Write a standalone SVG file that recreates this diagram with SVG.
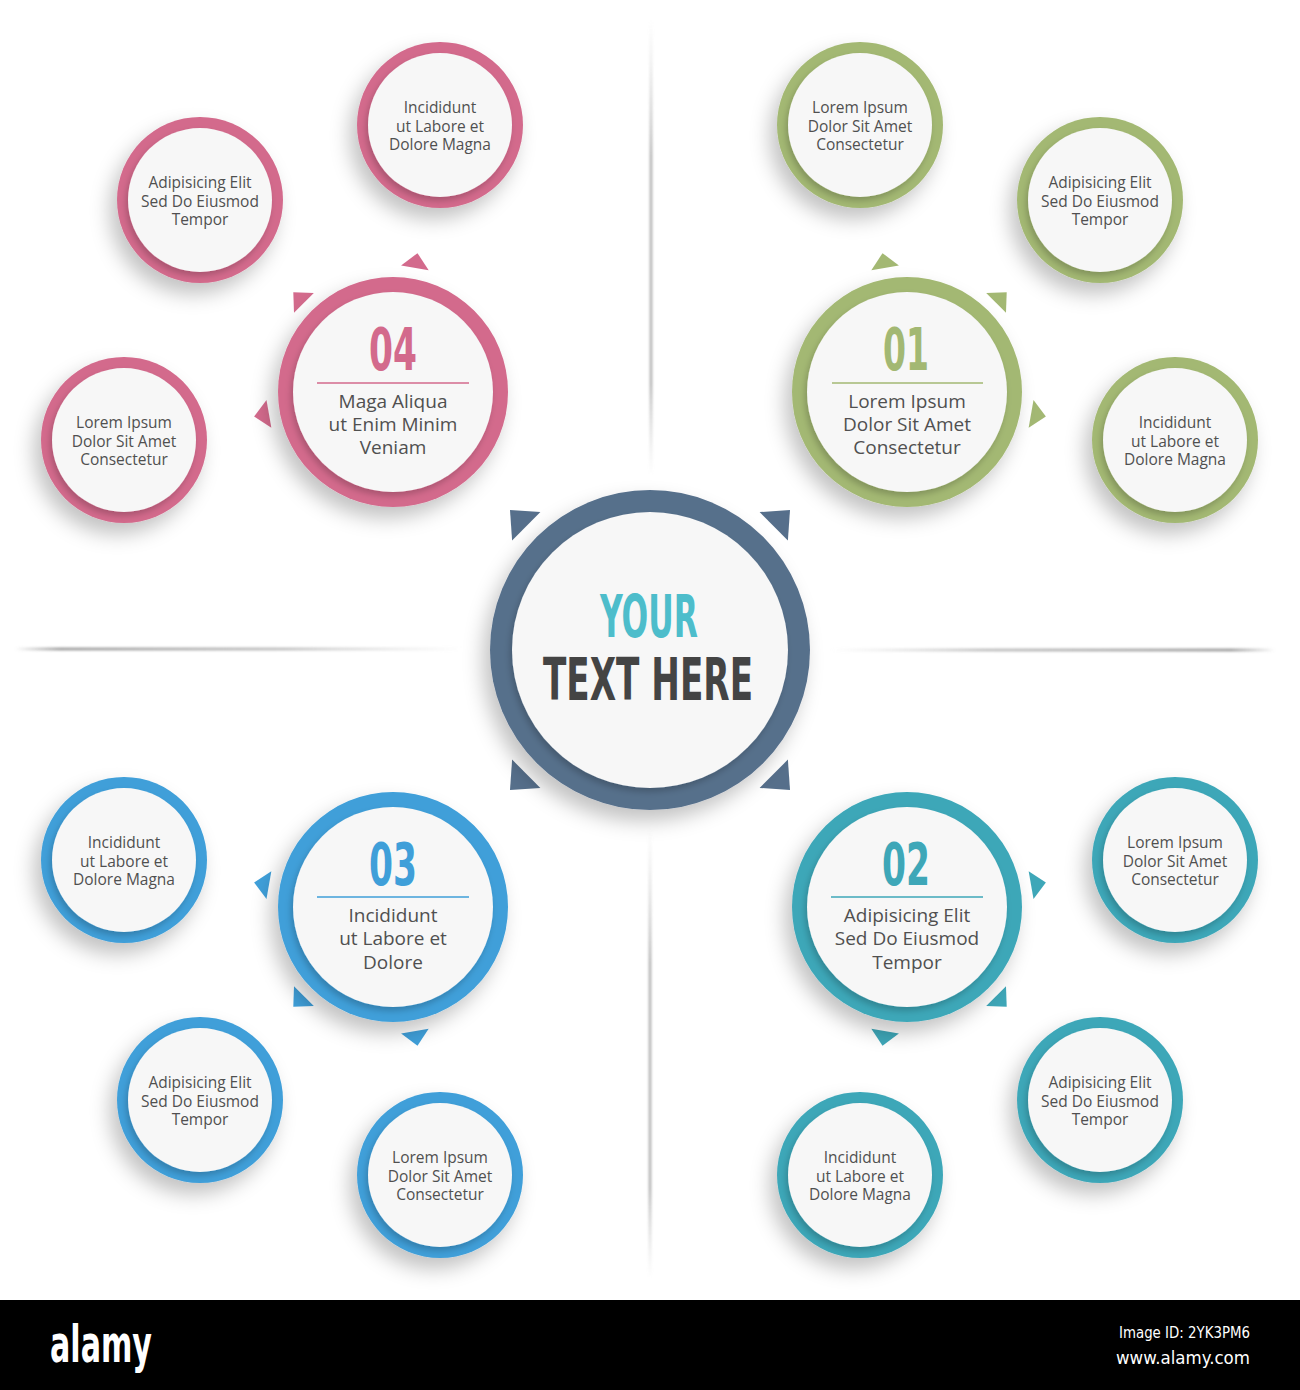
<svg xmlns="http://www.w3.org/2000/svg" width="1300" height="1390" viewBox="0 0 1300 1390">
<style>
.inner{fill:#f7f7f7;filter:url(#ish)}
.sat{font-family:"Open Sans","Liberation Sans",sans-serif;font-size:15.5px;fill:#505050;text-anchor:middle}
.big{font-family:"Open Sans","Liberation Sans",sans-serif;font-size:19px;fill:#505050;text-anchor:middle}
.num{font-family:"DejaVu Sans","Liberation Sans",sans-serif;font-weight:bold;font-size:58px;text-anchor:middle}
.pink{fill:#d36a8c}.green{fill:#a3b873}.blue{fill:#3f9fd9}.teal{fill:#3ea7b8}.navy{fill:#566f8b}
.ring{filter:url(#sh)}
</style>
<defs>
<filter id="sh" x="-40%" y="-40%" width="180%" height="180%">
<feDropShadow dx="-7" dy="11" stdDeviation="10" flood-color="#000" flood-opacity="0.24"/>
</filter>
<filter id="ish" x="-20%" y="-20%" width="140%" height="140%">
<feDropShadow dx="-2" dy="4" stdDeviation="3" flood-color="#000" flood-opacity="0.2"/>
</filter>
<path id="tri" d="M126,-14 L141,0 L126,14 Z"/>
<path id="triC" d="M175,-20 L198,0 L175,20 Z"/>
<linearGradient id="gh1" x1="0" y1="0" x2="1" y2="0">
<stop offset="0" stop-color="#999" stop-opacity="0"/>
<stop offset="0.1" stop-color="#999" stop-opacity="0.9"/>
<stop offset="0.6" stop-color="#aaa" stop-opacity="0.7"/>
<stop offset="1" stop-color="#ccc" stop-opacity="0"/>
</linearGradient>
<linearGradient id="gh2" x1="0" y1="0" x2="1" y2="0">
<stop offset="0" stop-color="#ccc" stop-opacity="0"/>
<stop offset="0.35" stop-color="#aaa" stop-opacity="0.7"/>
<stop offset="0.9" stop-color="#999" stop-opacity="0.9"/>
<stop offset="1" stop-color="#999" stop-opacity="0"/>
</linearGradient>
<linearGradient id="gv1" x1="0" y1="0" x2="0" y2="1">
<stop offset="0" stop-color="#ccc" stop-opacity="0"/>
<stop offset="0.3" stop-color="#aaa" stop-opacity="0.8"/>
<stop offset="0.8" stop-color="#aaa" stop-opacity="0.8"/>
<stop offset="1" stop-color="#ccc" stop-opacity="0"/>
</linearGradient>
<filter id="blur" x="-10%" y="-200%" width="120%" height="500%"><feGaussianBlur stdDeviation="0.8"/></filter>
</defs>
<rect width="1300" height="1390" fill="#ffffff"/>

<g id="dividers" filter="url(#blur)">
<rect x="15" y="647.5" width="450" height="3" fill="url(#gh1)"/>
<rect x="830" y="648.5" width="445" height="3" fill="url(#gh2)"/>
<rect x="649.5" y="20" width="3" height="455" fill="url(#gv1)"/>
<rect x="648.5" y="828" width="3" height="450" fill="url(#gv1)"/>
</g>

<g id="connectors">
<use href="#triC" transform="translate(650,650) rotate(-135)" class="navy"/>
<use href="#triC" transform="translate(650,650) rotate(-45)" class="navy"/>
<use href="#triC" transform="translate(650,650) rotate(45)" class="navy"/>
<use href="#triC" transform="translate(650,650) rotate(135)" class="navy"/>
<use href="#tri" transform="translate(907,392) rotate(-100)" class="green"/>
<use href="#tri" transform="translate(907,392) rotate(-45)" class="green"/>
<use href="#tri" transform="translate(907,392) rotate(10)" class="green"/>
<use href="#tri" transform="translate(393,392) rotate(-80)" class="pink"/>
<use href="#tri" transform="translate(393,392) rotate(-135)" class="pink"/>
<use href="#tri" transform="translate(393,392) rotate(170)" class="pink"/>
<use href="#tri" transform="translate(393,907) rotate(190)" class="blue"/>
<use href="#tri" transform="translate(393,907) rotate(135)" class="blue"/>
<use href="#tri" transform="translate(393,907) rotate(80)" class="blue"/>
<use href="#tri" transform="translate(907,907) rotate(-10)" class="teal"/>
<use href="#tri" transform="translate(907,907) rotate(45)" class="teal"/>
<use href="#tri" transform="translate(907,907) rotate(100)" class="teal"/>
</g>

<g id="center">
<circle cx="650" cy="650" r="160" class="navy ring"/>
<circle cx="650" cy="650" r="138" class="inner"/>
<text x="649" y="637" class="num" fill="#4dbdcb" textLength="98" lengthAdjust="spacingAndGlyphs">YOUR</text>
<text x="648" y="700" class="num" fill="#444444" textLength="210" lengthAdjust="spacingAndGlyphs">TEXT HERE</text>
</g>

<g id="node-01">
<circle cx="907" cy="392" r="115" class="green ring"/>
<circle cx="907" cy="392" r="100" class="inner"/>
<text x="906" y="370" class="num green" textLength="46" lengthAdjust="spacingAndGlyphs">01</text>
<line x1="832" y1="383" x2="983" y2="383" stroke="#a3b873" stroke-width="1.5"/>
<text class="big"><tspan x="907" y="408">Lorem Ipsum</tspan><tspan x="907" y="431">Dolor Sit Amet</tspan><tspan x="907" y="454">Consectetur</tspan></text>
</g>

<g id="node-04">
<circle cx="393" cy="392" r="115" class="pink ring"/>
<circle cx="393" cy="392" r="100" class="inner"/>
<text x="393" y="370" class="num pink" textLength="48" lengthAdjust="spacingAndGlyphs">04</text>
<line x1="317" y1="383" x2="469" y2="383" stroke="#d36a8c" stroke-width="1.5"/>
<text class="big"><tspan x="393" y="408">Maga Aliqua</tspan><tspan x="393" y="431">ut Enim Minim</tspan><tspan x="393" y="454">Veniam</tspan></text>
</g>

<g id="node-03">
<circle cx="393" cy="907" r="115" class="blue ring"/>
<circle cx="393" cy="907" r="100" class="inner"/>
<text x="393" y="885" class="num blue" textLength="48" lengthAdjust="spacingAndGlyphs">03</text>
<line x1="317" y1="897" x2="469" y2="897" stroke="#3f9fd9" stroke-width="1.5"/>
<text class="big"><tspan x="393" y="922">Incididunt</tspan><tspan x="393" y="945">ut Labore et</tspan><tspan x="393" y="969">Dolore</tspan></text>
</g>

<g id="node-02">
<circle cx="907" cy="907" r="115" class="teal ring"/>
<circle cx="907" cy="907" r="100" class="inner"/>
<text x="906" y="885" class="num teal" textLength="48" lengthAdjust="spacingAndGlyphs">02</text>
<line x1="831" y1="897" x2="983" y2="897" stroke="#3ea7b8" stroke-width="1.5"/>
<text class="big"><tspan x="907" y="922">Adipisicing Elit</tspan><tspan x="907" y="945">Sed Do Eiusmod</tspan><tspan x="907" y="969">Tempor</tspan></text>
</g>

<g id="pink-1">
<circle cx="440" cy="125" r="83" class="pink ring"/>
<circle cx="440" cy="125" r="72" class="inner"/>
<text class="sat"><tspan x="440" y="113">Incididunt</tspan><tspan x="440" y="131.5">ut Labore et</tspan><tspan x="440" y="150">Dolore Magna</tspan></text>
</g>
<g id="pink-2">
<circle cx="200" cy="200" r="83" class="pink ring"/>
<circle cx="200" cy="200" r="72" class="inner"/>
<text class="sat"><tspan x="200" y="188">Adipisicing Elit</tspan><tspan x="200" y="206.5">Sed Do Eiusmod</tspan><tspan x="200" y="225">Tempor</tspan></text>
</g>
<g id="pink-3">
<circle cx="124" cy="440" r="83" class="pink ring"/>
<circle cx="124" cy="440" r="72" class="inner"/>
<text class="sat"><tspan x="124" y="428">Lorem Ipsum</tspan><tspan x="124" y="446.5">Dolor Sit Amet</tspan><tspan x="124" y="465">Consectetur</tspan></text>
</g>

<g id="green-1">
<circle cx="860" cy="125" r="83" class="green ring"/>
<circle cx="860" cy="125" r="72" class="inner"/>
<text class="sat"><tspan x="860" y="113">Lorem Ipsum</tspan><tspan x="860" y="131.5">Dolor Sit Amet</tspan><tspan x="860" y="150">Consectetur</tspan></text>
</g>
<g id="green-2">
<circle cx="1100" cy="200" r="83" class="green ring"/>
<circle cx="1100" cy="200" r="72" class="inner"/>
<text class="sat"><tspan x="1100" y="188">Adipisicing Elit</tspan><tspan x="1100" y="206.5">Sed Do Eiusmod</tspan><tspan x="1100" y="225">Tempor</tspan></text>
</g>
<g id="green-3">
<circle cx="1175" cy="440" r="83" class="green ring"/>
<circle cx="1175" cy="440" r="72" class="inner"/>
<text class="sat"><tspan x="1175" y="428">Incididunt</tspan><tspan x="1175" y="446.5">ut Labore et</tspan><tspan x="1175" y="465">Dolore Magna</tspan></text>
</g>

<g id="blue-1">
<circle cx="124" cy="860" r="83" class="blue ring"/>
<circle cx="124" cy="860" r="72" class="inner"/>
<text class="sat"><tspan x="124" y="848">Incididunt</tspan><tspan x="124" y="866.5">ut Labore et</tspan><tspan x="124" y="885">Dolore Magna</tspan></text>
</g>
<g id="blue-2">
<circle cx="200" cy="1100" r="83" class="blue ring"/>
<circle cx="200" cy="1100" r="72" class="inner"/>
<text class="sat"><tspan x="200" y="1088">Adipisicing Elit</tspan><tspan x="200" y="1106.5">Sed Do Eiusmod</tspan><tspan x="200" y="1125">Tempor</tspan></text>
</g>
<g id="blue-3">
<circle cx="440" cy="1175" r="83" class="blue ring"/>
<circle cx="440" cy="1175" r="72" class="inner"/>
<text class="sat"><tspan x="440" y="1163">Lorem Ipsum</tspan><tspan x="440" y="1181.5">Dolor Sit Amet</tspan><tspan x="440" y="1200">Consectetur</tspan></text>
</g>

<g id="teal-1">
<circle cx="1175" cy="860" r="83" class="teal ring"/>
<circle cx="1175" cy="860" r="72" class="inner"/>
<text class="sat"><tspan x="1175" y="848">Lorem Ipsum</tspan><tspan x="1175" y="866.5">Dolor Sit Amet</tspan><tspan x="1175" y="885">Consectetur</tspan></text>
</g>
<g id="teal-2">
<circle cx="1100" cy="1100" r="83" class="teal ring"/>
<circle cx="1100" cy="1100" r="72" class="inner"/>
<text class="sat"><tspan x="1100" y="1088">Adipisicing Elit</tspan><tspan x="1100" y="1106.5">Sed Do Eiusmod</tspan><tspan x="1100" y="1125">Tempor</tspan></text>
</g>
<g id="teal-3">
<circle cx="860" cy="1175" r="83" class="teal ring"/>
<circle cx="860" cy="1175" r="72" class="inner"/>
<text class="sat"><tspan x="860" y="1163">Incididunt</tspan><tspan x="860" y="1181.5">ut Labore et</tspan><tspan x="860" y="1200">Dolore Magna</tspan></text>
</g>

<g id="footer">
<rect x="0" y="1300" width="1300" height="90" fill="#000000"/>
<text x="50" y="1362" font-family="'DejaVu Sans','Liberation Sans',sans-serif" font-weight="bold" font-size="52" fill="#ffffff" textLength="102" lengthAdjust="spacingAndGlyphs">alamy</text>
<text x="1250" y="1338" font-family="'DejaVu Sans','Liberation Sans',sans-serif" font-size="15" fill="#ffffff" text-anchor="end" textLength="131" lengthAdjust="spacingAndGlyphs">Image ID: 2YK3PM6</text>
<text x="1250" y="1364" font-family="'DejaVu Sans','Liberation Sans',sans-serif" font-size="18" fill="#ffffff" text-anchor="end" textLength="134" lengthAdjust="spacingAndGlyphs">www.alamy.com</text>
</g>
</svg>
